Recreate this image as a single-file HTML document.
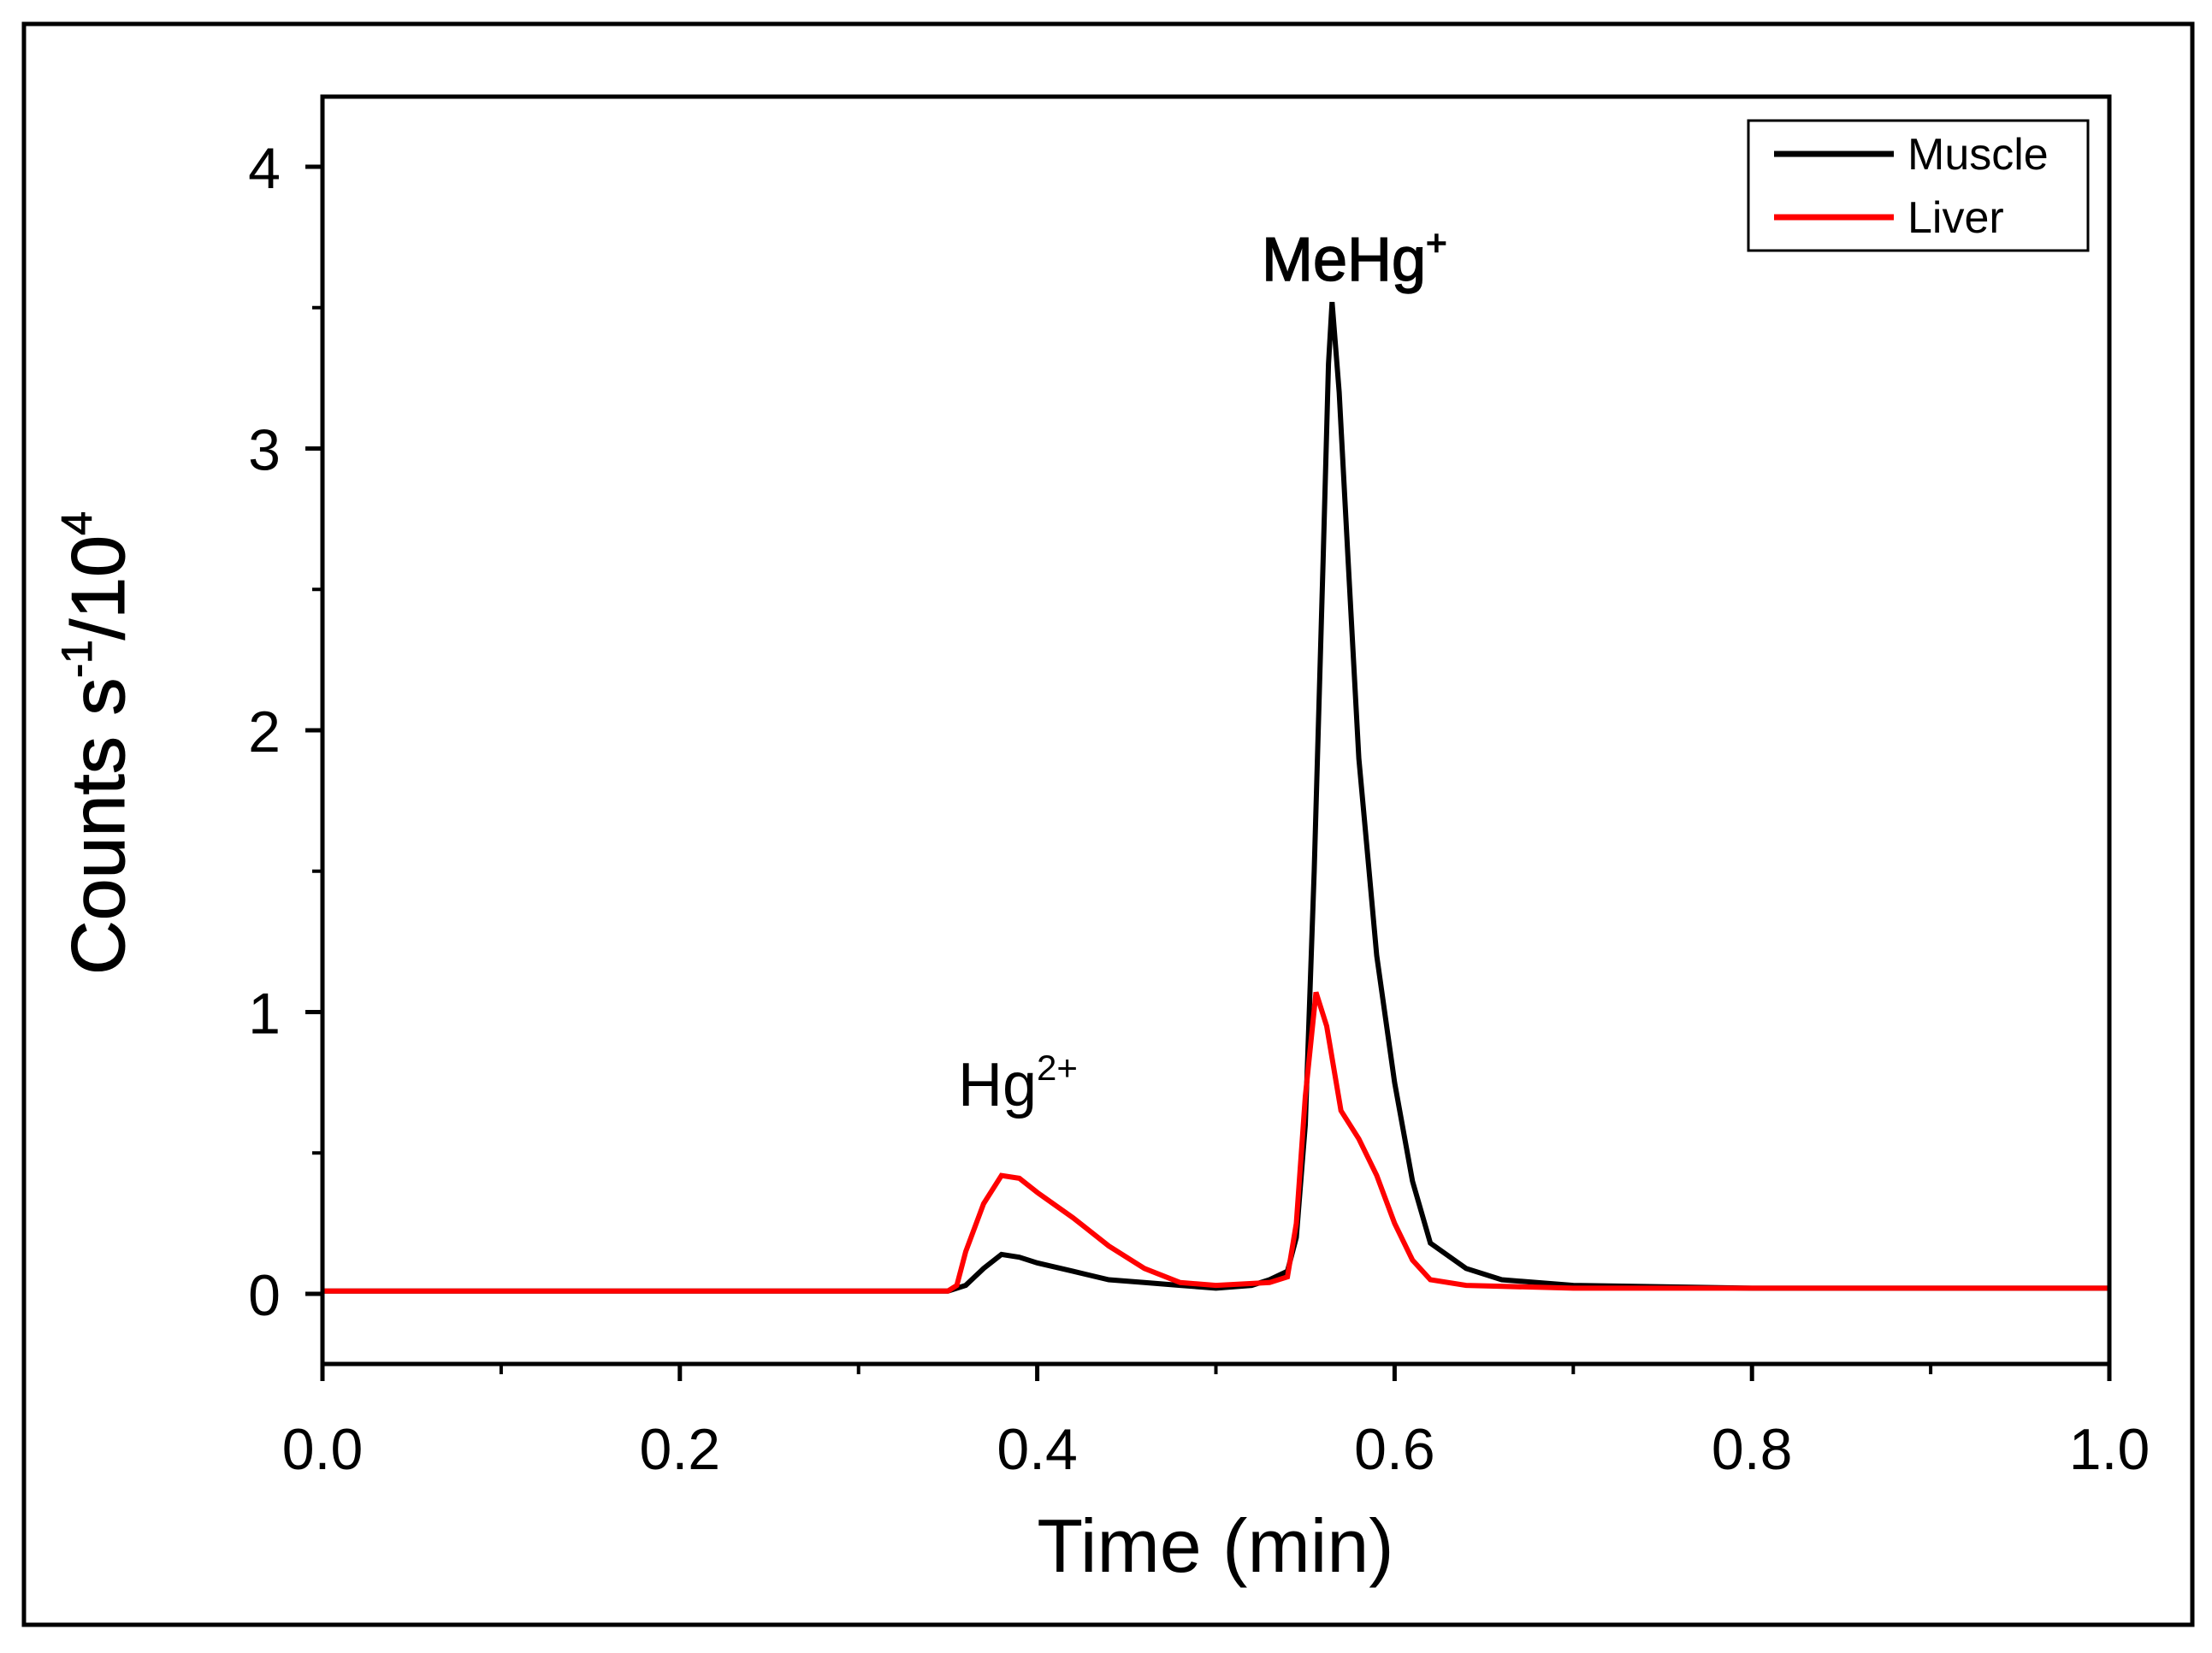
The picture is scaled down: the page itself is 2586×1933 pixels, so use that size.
<!DOCTYPE html>
<html><head><meta charset="utf-8"><style>
html,body{margin:0;padding:0;background:#fff;}
svg{display:block;font-family:"Liberation Sans",sans-serif;}
</style></head><body>
<svg id="chart" width="2586" height="1933" viewBox="0 0 2586 1933" xmlns="http://www.w3.org/2000/svg">
<rect x="28" y="28" width="2535" height="1872" fill="#fff" stroke="#000" stroke-width="5"/>
<g id="marks"></g>
<rect x="377" y="113" width="2089" height="1482" fill="none" stroke="#000" stroke-width="5"/>
<g id="axes"></g>
<text x="1421" y="1838" font-size="88" text-anchor="middle">Time (min)</text>
<text transform="translate(145,869) rotate(-90)" font-size="88" text-anchor="middle" stroke="#000" stroke-width="1">Counts s<tspan font-size="50" dy="-38">-1</tspan><tspan dy="38">/10</tspan><tspan font-size="50" dy="-38">4</tspan></text>
<text x="1475" y="328" font-size="72" stroke="#000" stroke-width="1.5">MeHg<tspan font-size="42" dy="-30">+</tspan></text>
<text x="1120" y="1293" font-size="72">Hg<tspan font-size="42" dy="-30">2+</tspan></text>
<g>
<rect x="2044" y="141" width="397" height="152" fill="#fff" stroke="#000" stroke-width="3"/>
<line x1="2074" y1="180" x2="2214" y2="180" stroke="#000" stroke-width="7"/>
<text x="2230" y="198" font-size="52">Muscle</text>
<line x1="2074" y1="254" x2="2214" y2="254" stroke="#f00" stroke-width="7"/>
<text x="2230" y="272" font-size="52">Liver</text>
</g>
</svg>
<script>
const timeMuscle=[0,0.1,0.2,0.3,0.35,0.36,0.37,0.38,0.39,0.40,0.42,0.44,0.46,0.48,0.50,0.52,0.53,0.54,0.545,0.55,0.555,0.56,0.563,0.565,0.569,0.574,0.58,0.585,0.59,0.60,0.61,0.62,0.64,0.66,0.70,0.8,1.0];
const muscleValues=[0.01,0.01,0.01,0.01,0.01,0.03,0.09,0.14,0.13,0.11,0.08,0.05,0.04,0.03,0.02,0.03,0.05,0.08,0.2,0.6,1.5,2.6,3.3,3.52,3.2,2.6,1.9,1.55,1.2,0.75,0.4,0.18,0.09,0.05,0.03,0.02,0.02];
const timeLiver=[0,0.1,0.2,0.3,0.35,0.355,0.36,0.37,0.38,0.39,0.40,0.42,0.44,0.46,0.48,0.50,0.53,0.54,0.545,0.55,0.556,0.562,0.57,0.58,0.59,0.60,0.61,0.62,0.64,0.7,1.0];
const liverValues=[0.01,0.01,0.01,0.01,0.01,0.03,0.15,0.32,0.42,0.41,0.36,0.27,0.17,0.09,0.04,0.03,0.04,0.06,0.25,0.7,1.07,0.95,0.65,0.55,0.42,0.25,0.12,0.05,0.03,0.02,0.02];
const xTicks=[0,0.2,0.4,0.6,0.8,1.0];
const xTickLabels=["0.0","0.2","0.4","0.6","0.8","1.0"];
const xMinor=[0.1,0.3,0.5,0.7,0.9];
const yTicks=[0,1,2,3,4];
const yTickLabels=["0","1","2","3","4"];
const yMinor=[0.5,1.5,2.5,3.5];
const NS="http://www.w3.org/2000/svg";
function xs(v){return 377+v*2089;}
function ys(v){return 1513-v*329.5;}
const marks=document.getElementById('marks');
const axes=document.getElementById('axes');
function mk(tag,attrs,parent){const e=document.createElementNS(NS,tag);for(const k in attrs)e.setAttribute(k,attrs[k]);parent.appendChild(e);return e;}
function series(t,v,color,name){
  const pts=t.map((x,i)=>xs(x).toFixed(1)+','+ys(v[i]).toFixed(1)).join(' ');
  const p=mk('polyline',{points:pts,fill:'none',stroke:color,'stroke-width':6,'stroke-linejoin':'miter'},marks);
  
  
}
series(timeMuscle,muscleValues,'#000','muscle-series');
series(timeLiver,liverValues,'#f00','liver-series');
xTicks.forEach((v,i)=>{
  const l=mk('line',{x1:xs(v),x2:xs(v),y1:1595,y2:1615,stroke:'#000','stroke-width':5},axes);
  
  
  const t=mk('text',{x:xs(v),y:1718,'font-size':68,'text-anchor':'middle'},axes);
  t.textContent=xTickLabels[i];
  
  
});
xMinor.forEach(v=>{
  const l=mk('line',{x1:xs(v),x2:xs(v),y1:1595,y2:1607,stroke:'#000','stroke-width':4},axes);
  
  
});
yTicks.forEach((v,i)=>{
  const l=mk('line',{x1:357,x2:377,y1:ys(v),y2:ys(v),stroke:'#000','stroke-width':5},axes);
  
  
  const t=mk('text',{x:328,y:ys(v)+25,'font-size':68,'text-anchor':'end'},axes);
  t.textContent=yTickLabels[i];
  
  
});
yMinor.forEach(v=>{
  const l=mk('line',{x1:365,x2:377,y1:ys(v),y2:ys(v),stroke:'#000','stroke-width':4},axes);
  
  
});
</script>
</body></html>
